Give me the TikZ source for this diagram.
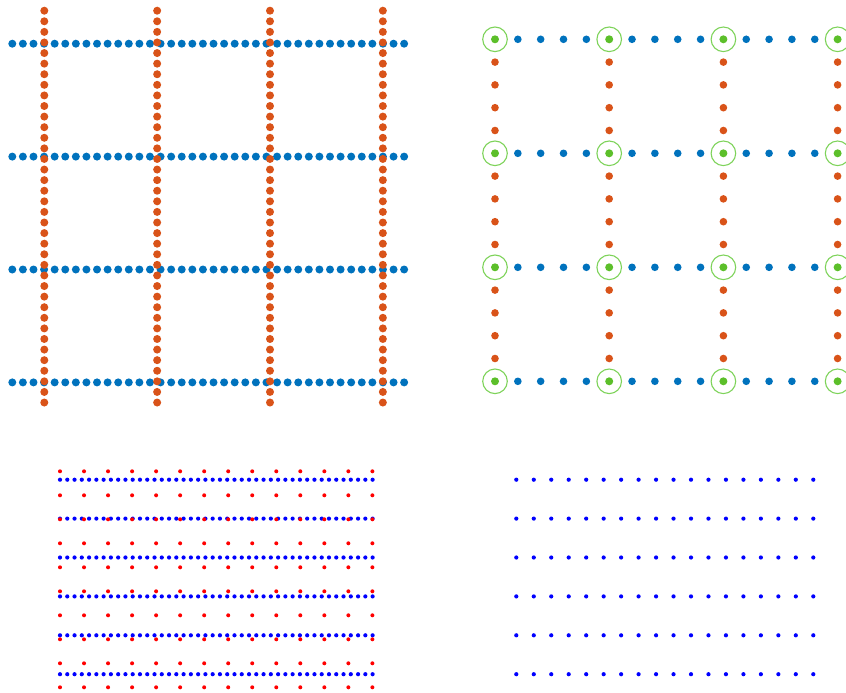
\documentclass[tikz,border=0pt]{standalone}
\definecolor{mblue}{HTML}{0072BD}
\definecolor{morange}{HTML}{D95319}
\definecolor{mgreen}{HTML}{5CBF2A}
\definecolor{mring}{HTML}{7ED35A}
\definecolor{pblue}{HTML}{0000FF}
\definecolor{pred}{HTML}{FF0000}
\tikzset{
  bigblue/.style={fill=mblue},
  bigorange/.style={fill=morange},
  greendot/.style={fill=mgreen},
  greenring/.style={draw=mring, line width=1.1pt},
  smallblue/.style={fill=pblue},
  smallred/.style={fill=pred}
}
\begin{document}
\begin{tikzpicture}[x=1pt,y=-1pt]
\useasboundingbox (0,0) rectangle (846,693);
\clip (0,0) rectangle (846,693);
% ---------- top-left panel ----------
\foreach \r in {0,...,3}
  \foreach \i in {0,...,37}
    \path[bigblue] ({12.3+\i*10.59},{43.7+\r*112.9}) circle (4pt);
\foreach \c in {0,...,3}
  \foreach \j in {0,...,37}
    \path[bigorange] ({44.3+\c*112.85},{10.7+\j*10.59}) circle (4pt);
% ---------- top-right panel ----------
\foreach \r in {0,...,3}
  \foreach \c in {0,...,3}
    \foreach \k in {1,...,4}
      \path[bigblue] ({495+\c*114.2+\k*22.84},{39.3+\r*114}) circle (3.8pt);
\foreach \c in {0,...,3}
  \foreach \r in {0,...,2}
    \foreach \k in {1,...,4}
      \path[bigorange] ({495+\c*114.2},{39.3+\r*114+\k*22.8}) circle (3.8pt);
\foreach \r in {0,...,3}
  \foreach \c in {0,...,3} {
    \path[greendot] ({495+\c*114.2},{39.3+\r*114}) circle (4pt);
    \path[greenring] ({495+\c*114.2},{39.3+\r*114}) circle (12.3pt);
  }
% ---------- bottom-left panel ----------
\foreach \r in {0,...,5}
  \foreach \i in {0,...,43}
    \path[smallblue] ({60+\i*7.27},{479.7+\r*38.9}) circle (2.1pt);
\foreach \k in {0,...,9}
  \foreach \i in {0,...,13}
    \path[smallred] ({60+\i*24.03},{471.3+\k*24}) circle (2pt);
% ---------- bottom-right panel ----------
\foreach \r in {0,...,5}
  \foreach \i in {0,...,17}
    \path[smallblue] ({516.3+\i*17.47},{479.7+\r*38.9}) circle (2.1pt);
\end{tikzpicture}
\end{document}
